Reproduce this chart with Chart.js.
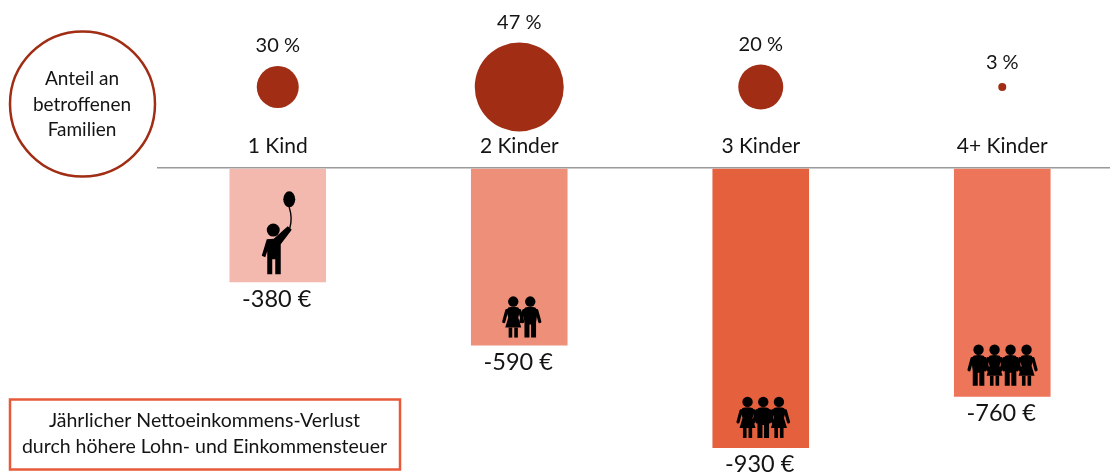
<!DOCTYPE html>
<html lang="de"><head><meta charset="utf-8">
<style>html,body{margin:0;padding:0;background:#fff;overflow:hidden;width:1110px;height:472px}canvas{display:block}</style>
<script src="https://cdn.jsdelivr.net/npm/chart.js@4"></script>
</head><body><canvas id="c" width="1123" height="472"></canvas>
<script>
const categories = ["1 Kind", "2 Kinder", "3 Kinder", "4+ Kinder"];
const incomeLoss = [-380, -590, -930, -760];
const familyShare = [30, 47, 20, 3];
const circleRadius = [21, 44.5, 22.5, 4];
const barColors = ["#f4b9ae", "#ed8f79", "#e5603d", "#ec755a"];
const legendLines = ["Anteil an", "betroffenen", "Familien"];
const noteLines = ["Jährlicher Nettoeinkommens-Verlust", "durch höhere Lohn- und Einkommensteuer"];
const childFigures = [["balloon"], ["girl", "boy"], ["girl", "boy", "girl"], ["boy", "girl", "boy", "girl"]];
const CIRCLE_ROW = 269;
const FONT = "Lato, sans-serif";
const INK = "#141414", RUST = "#a02d14", NOTE = "#e8593a";

function figure(ctx, cx, bottom, h, kind) {
  const k = h / 41;
  ctx.save();
  ctx.translate(cx, bottom); ctx.scale(k, k);
  ctx.fillStyle = "#000"; ctx.strokeStyle = "#000"; ctx.lineCap = "round";
  ctx.beginPath(); ctx.arc(0, -36, 5.2, 0, Math.PI * 2); ctx.fill();
  ctx.lineWidth = 3.2;
  ctx.beginPath(); ctx.moveTo(-6.5, -27); ctx.lineTo(-9.5, -16); ctx.moveTo(6.5, -27); ctx.lineTo(9.5, -16); ctx.stroke();
  ctx.beginPath();
  if (kind === "girl") {
    ctx.moveTo(-5, -30); ctx.quadraticCurveTo(0, -31.5, 5, -30); ctx.lineTo(7, -27);
    ctx.lineTo(5, -20); ctx.lineTo(8, -10); ctx.lineTo(-8, -10); ctx.lineTo(-5, -20); ctx.lineTo(-7, -27);
    ctx.closePath(); ctx.fill();
    ctx.fillRect(-4.6, -10, 3.6, 10); ctx.fillRect(1, -10, 3.6, 10);
  } else {
    ctx.moveTo(-5, -30); ctx.quadraticCurveTo(0, -31.5, 5, -30); ctx.lineTo(7.5, -27);
    ctx.lineTo(5.8, -15); ctx.lineTo(5.8, 0); ctx.lineTo(0.8, 0); ctx.lineTo(0.8, -13);
    ctx.lineTo(-0.8, -13); ctx.lineTo(-0.8, 0); ctx.lineTo(-5.8, 0); ctx.lineTo(-5.8, -15); ctx.lineTo(-7.5, -27);
    ctx.closePath(); ctx.fill();
  }
  ctx.restore();
}

function balloonChild(ctx, cx, bottom) {
  ctx.save();
  ctx.translate(cx, bottom);
  ctx.fillStyle = "#000"; ctx.strokeStyle = "#000"; ctx.lineCap = "round"; ctx.lineJoin = "round";
  ctx.beginPath(); ctx.arc(-4.5, -44.3, 6.5, 0, Math.PI * 2); ctx.fill();
  ctx.beginPath();
  ctx.moveTo(-11, -35); ctx.lineTo(-4, -35.5); ctx.lineTo(10, -48); ctx.lineTo(14, -44.5);
  ctx.lineTo(3, -30); ctx.lineTo(3, 0); ctx.lineTo(-2.5, 0); ctx.lineTo(-2.5, -15); ctx.lineTo(-5.5, -15);
  ctx.lineTo(-5.5, 0); ctx.lineTo(-10.5, 0); ctx.lineTo(-10.5, -23); ctx.lineTo(-12.5, -17);
  ctx.lineTo(-16, -18.5); ctx.closePath(); ctx.fill();
  ctx.lineWidth = 1.4;
  ctx.beginPath(); ctx.moveTo(12, -46); ctx.quadraticCurveTo(15, -56, 11.5, -67); ctx.stroke();
  ctx.beginPath(); ctx.ellipse(11.5, -75, 6, 8, 0, 0, Math.PI * 2); ctx.fill();
  ctx.restore();
}

const figureLayout = [null, { dx: 2.5, gap: 8, step: 17 }, { dx: 2.5, gap: 10, step: 15.7 }, { dx: 0.3, gap: 11, step: 16 }];

const overlay = {
  id: "overlay",
  afterDatasetsDraw(chart) {
    const { ctx, scales: { x, y } } = chart;
    ctx.save();
    ctx.textAlign = "center"; ctx.textBaseline = "middle"; ctx.fillStyle = INK;
    categories.forEach((c, i) => {
      const px = x.getPixelForValue(i);
      const bottom = y.getPixelForValue(incomeLoss[i]);
      ctx.fillStyle = INK;
      ctx.font = "23.5px " + FONT;
      ctx.fillText(incomeLoss[i] + " €", px - 1, bottom + 17);
      ctx.font = "20px " + FONT;
      const top = y.getPixelForValue(CIRCLE_ROW) - circleRadius[i];
      ctx.fillText(familyShare[i] + " %", px, top - 20);
      const figs = childFigures[i];
      if (figs[0] === "balloon") balloonChild(ctx, px, bottom - 8);
      else {
        const L = figureLayout[i];
        figs.forEach((f, j) => figure(ctx, px + L.dx + (j - (figs.length - 1) / 2) * L.step, bottom - L.gap, 41, f));
      }
    });
    // legend circle
    ctx.strokeStyle = RUST; ctx.lineWidth = 2.5;
    ctx.beginPath(); ctx.arc(82.5, 104, 72.5, 0, Math.PI * 2); ctx.stroke();
    ctx.fillStyle = INK; ctx.font = "19px " + FONT;
    legendLines.forEach((t, i) => ctx.fillText(t, 82, 79 + i * 25.5));
    // note box
    ctx.strokeStyle = NOTE; ctx.lineWidth = 2.5;
    ctx.strokeRect(10, 399.5, 390, 70);
    ctx.fillStyle = INK; ctx.font = "19.5px " + FONT;
    noteLines.forEach((t, i) => ctx.fillText(t, 204.5, 421 + i * 26));
    ctx.restore();
  }
};

new Chart(document.getElementById("c"), {
  type: "bar",
  data: {
    labels: categories,
    datasets: [
      { type: "bubble", data: categories.map((c, i) => ({ x: c, y: CIRCLE_ROW, r: circleRadius[i] })),
        backgroundColor: RUST, borderWidth: 0, hoverRadius: 0, clip: false },
      { type: "bar", data: incomeLoss, backgroundColor: barColors, borderWidth: 0,
        barPercentage: 0.4, categoryPercentage: 1 }
    ]
  },
  options: {
    responsive: false, animation: false,
    layout: { autoPadding: false, padding: { left: 157, right: 0, top: 0, bottom: 0 } },
    plugins: { legend: { display: false }, tooltip: { enabled: false } },
    scales: {
      x: {
        type: "category", offset: true, position: { y: 0 },
        grid: { display: false }, border: { display: false },
        ticks: { padding: -42, maxRotation: 0, color: INK, font: { family: FONT, size: 21 } }
      },
      y: {
        min: -1010, max: 558, position: "left",
        afterBuildTicks(s) { s.ticks = [{ value: 0 }]; },
        afterFit(s) { s.width = 0; },
        border: { display: false },
        grid: { color: "#9a9a9a", lineWidth: 1.5, drawTicks: false },
        ticks: { display: false }
      }
    }
  },
  plugins: [overlay]
});
</script></body></html>
